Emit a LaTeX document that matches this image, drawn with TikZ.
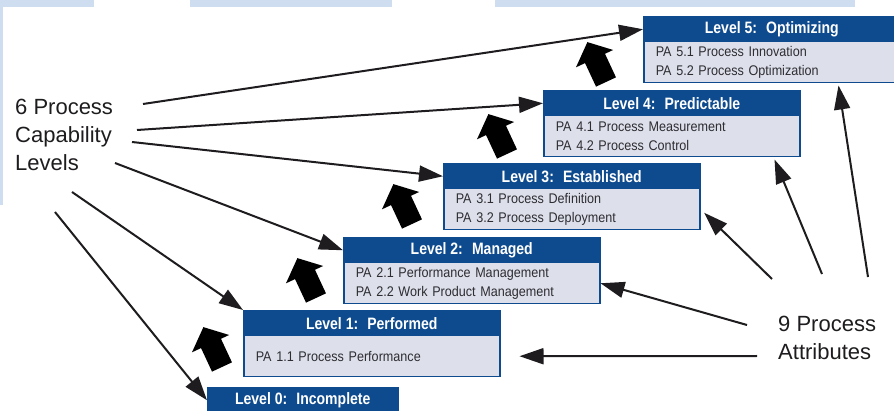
\documentclass[tikz,border=0pt]{standalone}
\usepackage{fontspec}
\setmainfont{Liberation Sans}
\newfontfamily\titlefont[FakeStretch=0.85]{Liberation Sans}
\newfontfamily\bodyfont[FakeStretch=0.9]{Liberation Sans}
\usepackage{tikz}
\usetikzlibrary{calc}
\usetikzlibrary{arrows.meta}
\definecolor{lvlblue}{RGB}{14,74,142}
\definecolor{lvlgray}{RGB}{221,223,234}
\definecolor{bodytext}{RGB}{45,45,50}
\definecolor{edgeblue}{RGB}{206,222,240}
\definecolor{ink}{RGB}{30,28,30}
\tikzstyle{lvltitle}=[fill=lvlblue, draw=lvlblue, line width=1.5pt, text=white, font=\titlefont\bfseries\fontsize{16.5}{19}\selectfont, minimum width=256pt, minimum height=25pt, inner sep=0pt, anchor=north west]
\tikzstyle{lvlbody}=[fill=lvlgray, draw=lvlblue, line width=1.5pt, text=bodytext, font=\bodyfont\fontsize{14}{18.5}\selectfont, text width=232pt, minimum height=41pt, inner xsep=12pt, inner ysep=0pt, align=left, anchor=north west]
\tikzstyle{bigtext}=[text=ink, font=\fontsize{22}{28}\selectfont, align=left, inner sep=0pt, anchor=north west]
\tikzstyle{pointer}=[draw=ink, line width=2pt, -{Triangle[length=24pt,width=16pt]}]
\tikzset{pics/levelup/.style={code={\fill [black, rotate=25] (-11,0) -- (-11,-26) -- (-21,-26) -- (0,-44) -- (20,-26) -- (11,-26) -- (11,0) -- cycle;}}}

\begin{document}
\begin{tikzpicture}[x=1pt, y=-1pt]
    \useasboundingbox (0,0) rectangle (894,411);
    \clip (0,0) rectangle (894,411);
    \fill [edgeblue] (0,0) rectangle (94,7);
    \fill [edgeblue] (190,0) rectangle (392,7);
    \fill [edgeblue] (495,0) rectangle (855,7);
    \fill [edgeblue] (0,0) rectangle (3,205);

    \node [lvlbody] (b5) at (643,41) {PA 5.1 Process Innovation\\PA 5.2 Process Optimization};
    \node [lvltitle] (l5) at (643,16) {Level 5:~ Optimizing};
    \node [lvlbody] (b4) at (543,115) {PA 4.1 Process Measurement\\PA 4.2 Process Control};
    \node [lvltitle] (l4) at (543,90) {Level 4:~ Predictable};
    \node [lvlbody] (b3) at (443,188) {PA 3.1 Process Definition\\PA 3.2 Process Deployment};
    \node [lvltitle] (l3) at (443,163) {Level 3:~ Established};
    \node [lvlbody] (b2) at (343,262) {PA 2.1 Performance Management\\PA 2.2 Work Product Management};
    \node [lvltitle] (l2) at (343,237) {Level 2:~ Managed};
    \node [lvlbody] (b1) at (243,335) {PA 1.1 Process Performance};
    \node [lvltitle] (l1) at (243,310) {Level 1:~ Performed};
    \node [lvltitle, minimum width=190pt] (l0) at (207,387) {Level 0:~ Incomplete};

    \pic at (606,82) {levelup};
    \pic at (507,154) {levelup};
    \pic at (412,224) {levelup};
    \pic at (316,298) {levelup};
    \pic at (222,367) {levelup};

    \node [bigtext] (cpl) at (15,99) {6 Process\\Capability\\Levels};
    \node [bigtext] (pa) at (778,316) {9 Process\\Attributes};

    \coordinate (c5) at (143,104);
    \coordinate (c4) at (137,130);
    \coordinate (c3) at (132,142);
    \coordinate (c2) at (115,163);
    \coordinate (c1) at (72,192);
    \coordinate (c0) at (55,212);
    \draw [pointer] (c5) -- (l5.west);
    \draw [pointer] (c4) -- (l4.west);
    \draw [pointer] (c3) -- (l3.west);
    \draw [pointer] (c2) -- (l2.west);
    \draw [pointer] (c1) -- (l1.north west);
    \draw [pointer] (c0) -- (l0.west);

    \coordinate (a1) at (757,356);
    \coordinate (a2) at (747,325);
    \coordinate (a3) at (772,279);
    \coordinate (a4) at (822,274);
    \coordinate (a5) at (868,277);
    \draw [pointer, shorten >=19pt] (a1) -- (b1.east);
    \draw [pointer] (a2) -- (b2.east);
    \draw [pointer, shorten >=5pt] (a3) -- (b3.east);
    \draw [pointer] (a4) -- ($(b4.south east)+(-26,2)$);
    \draw [pointer] (a5) -- ($(b5.south east)+(-62,2)$);
\end{tikzpicture}
\end{document}
